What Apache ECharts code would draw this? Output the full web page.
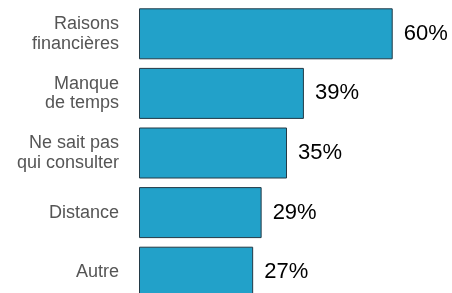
<!DOCTYPE html>
<html>
<head>
<meta charset="utf-8">
<script src="https://cdn.jsdelivr.net/npm/echarts@6/dist/echarts.min.js"></script>
<style>
  html, body { margin: 0; padding: 0; background: #fff; overflow: hidden; }
  #chart { width: 452px; height: 302px; }
</style>
</head>
<body>
<div id="chart"></div>
<script>
const categories = ['Raisons\nfinancières', 'Manque\nde temps', 'Ne sait pas\nqui consulter', 'Distance', 'Autre']
const values = [60, 39, 35, 29, 27]

const chart = echarts.init(document.getElementById('chart'))

const option = {
  animation: false,
  grid: {
    left: 139,
    right: 17,
    top: 4,
    bottom: 0
  },
  xAxis: {
    type: 'value',
    min: 0,
    max: 70,
    show: false
  },
  yAxis: {
    type: 'category',
    inverse: true,
    data: categories,
    axisLine: { show: false },
    axisTick: { show: false },
    axisLabel: {
      margin: 20,
      color: '#555555',
      fontSize: 18,
      lineHeight: 19.5,
      fontFamily: 'Liberation Sans, Arial, sans-serif'
    }
  },
  series: [
    {
      type: 'bar',
      data: values,
      barWidth: 51,
      itemStyle: {
        color: '#22a1c9',
        borderColor: '#233a46',
        borderWidth: 1
      },
      label: {
        show: true,
        position: 'right',
        distance: 11,
        formatter: '{c}%',
        color: '#000000',
        fontSize: 22,
        fontFamily: 'Liberation Sans, Arial, sans-serif'
      }
    }
  ]
}

chart.setOption(option)
window.addEventListener('resize', () => chart.resize())
</script>
</body>
</html>
